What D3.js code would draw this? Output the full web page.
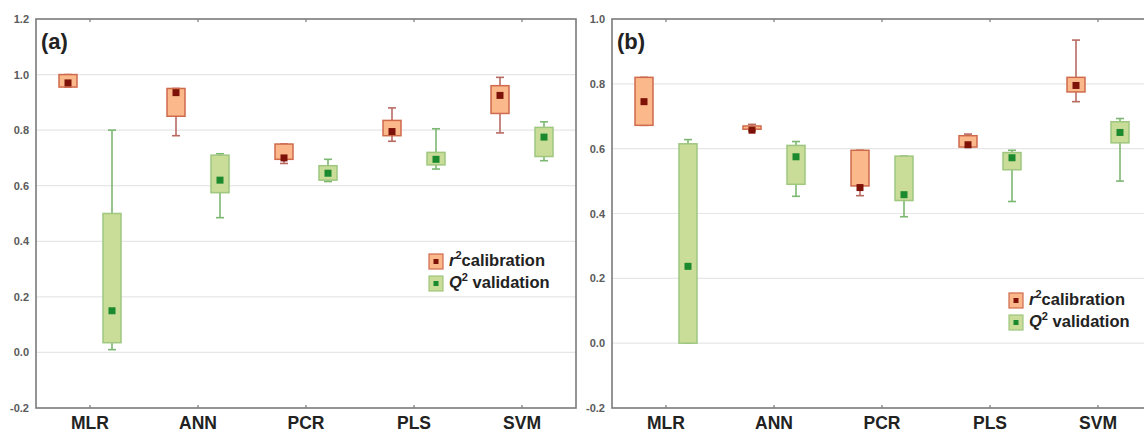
<!DOCTYPE html>
<html>
<head>
<meta charset="utf-8">
<script src="https://cdn.jsdelivr.net/npm/d3@7"></script>
<style>
  html, body { margin: 0; padding: 0; background: #fff; }
  svg { display: block; font-family: "Liberation Sans", Arial, sans-serif; }
</style>
</head>
<body>
<svg id="chart" width="1144" height="434"></svg>
<script>
// Model categories
const models = ["MLR", "ANN", "PCR", "PLS", "SVM"];

// Each entry: [min, q1, marker, q3, max]
// Panel (a)
const r2CalibrationA = [
  [0.955, 0.955, 0.970, 1.000, 1.000],
  [0.780, 0.850, 0.935, 0.950, 0.950],
  [0.680, 0.695, 0.700, 0.750, 0.750],
  [0.760, 0.780, 0.795, 0.835, 0.880],
  [0.790, 0.860, 0.925, 0.960, 0.990]
];
const q2ValidationA = [
  [0.010, 0.035, 0.150, 0.500, 0.800],
  [0.485, 0.575, 0.620, 0.710, 0.715],
  [0.615, 0.620, 0.645, 0.672, 0.695],
  [0.660, 0.675, 0.695, 0.720, 0.805],
  [0.690, 0.705, 0.775, 0.810, 0.830]
];
// Panel (b)
const r2CalibrationB = [
  [0.672, 0.672, 0.745, 0.820, 0.820],
  [0.655, 0.660, 0.657, 0.670, 0.675],
  [0.455, 0.485, 0.480, 0.595, 0.595],
  [0.605, 0.605, 0.612, 0.640, 0.645],
  [0.745, 0.775, 0.795, 0.820, 0.935]
];
const q2ValidationB = [
  [0.000, 0.000, 0.237, 0.615, 0.628],
  [0.453, 0.490, 0.575, 0.610, 0.622],
  [0.390, 0.440, 0.458, 0.577, 0.577],
  [0.437, 0.535, 0.572, 0.588, 0.595],
  [0.500, 0.618, 0.650, 0.683, 0.693]
];

// Axis tick labels
const ticksA = [-0.2, 0.0, 0.2, 0.4, 0.6, 0.8, 1.0, 1.2];
const ticksB = [-0.2, 0.0, 0.2, 0.4, 0.6, 0.8, 1.0];

const styles = {
  r2: { fill: "#fbb98b", stroke: "#cf6a4c", whisker: "#b86a62", marker: "#7e1208" },
  q2: { fill: "#c9dc98", stroke: "#9fc77f", whisker: "#7cb872", marker: "#1b8a2f" }
};

const svg = d3.select("#chart");
const fmt = d => d3.format(".1f")(d).replace("\u2212", "-");

function drawPanel(opt) {
  const x = d3.scaleBand().domain(models).range([opt.left, opt.right]);
  const y = d3.scaleLinear().domain(opt.domain).range([408, 19]);
  const g = svg.append("g");

  // grid lines
  g.selectAll("line.grid").data(opt.ticks.slice(1, -1)).join("line")
    .attr("x1", opt.left).attr("x2", opt.right)
    .attr("y1", d => y(d)).attr("y2", d => y(d))
    .attr("stroke", "#e6e6e6").attr("stroke-width", 1.2);

  // y axis labels
  const yAxis = d3.axisLeft(y).tickValues(opt.ticks).tickFormat(fmt).tickSize(0).tickPadding(7);
  const ya = g.append("g").attr("transform", `translate(${opt.left},0)`).call(yAxis);
  ya.select(".domain").remove();
  ya.selectAll("text").attr("font-size", 11).attr("font-weight", "bold").attr("fill", "#5a5a5a")
    .attr("font-family", "'Liberation Sans', Arial, sans-serif");

  // x axis labels
  const xAxis = d3.axisBottom(x).tickSize(0).tickPadding(9);
  const xa = g.append("g").attr("transform", "translate(0,408)").call(xAxis);
  xa.select(".domain").remove();
  xa.selectAll("text").attr("font-size", 17.5).attr("font-weight", "bold").attr("fill", "#222")
    .attr("font-family", "'Liberation Sans', Arial, sans-serif");

  // frame
  g.append("rect").attr("x", opt.left).attr("y", 19)
    .attr("width", opt.right - opt.left).attr("height", 389)
    .attr("fill", "none").attr("stroke", "#7a7a7a").attr("stroke-width", 1.6);

  // small category ticks on top and bottom edges
  models.forEach(m => {
    const cx = x(m) + x.bandwidth() / 2;
    [19, 408].forEach(yy => {
      g.append("line").attr("x1", cx).attr("x2", cx)
        .attr("y1", yy === 19 ? 19 : 405).attr("y2", yy === 19 ? 22 : 408)
        .attr("stroke", "#7a7a7a").attr("stroke-width", 1.2);
    });
  });

  // boxes
  const bw = 18, off = 22, cap = 8;
  [[opt.r2, styles.r2, -off], [opt.q2, styles.q2, off]].forEach(([data, st, dx]) => {
    data.forEach((v, i) => {
      const cx = x(models[i]) + x.bandwidth() / 2 + dx;
      const [mn, q1, med, q3, mx] = v;
      const bg = g.append("g");
      // whiskers
      bg.append("line").attr("x1", cx).attr("x2", cx).attr("y1", y(mx)).attr("y2", y(q3))
        .attr("stroke", st.whisker).attr("stroke-width", 1.6);
      bg.append("line").attr("x1", cx).attr("x2", cx).attr("y1", y(q1)).attr("y2", y(mn))
        .attr("stroke", st.whisker).attr("stroke-width", 1.6);
      [mn, mx].forEach(w => {
        bg.append("line").attr("x1", cx - cap / 2).attr("x2", cx + cap / 2)
          .attr("y1", y(w)).attr("y2", y(w))
          .attr("stroke", st.whisker).attr("stroke-width", 1.6);
      });
      // box
      bg.append("rect").attr("x", cx - bw / 2).attr("y", y(q3))
        .attr("width", bw).attr("height", Math.max(1, y(q1) - y(q3)))
        .attr("fill", st.fill).attr("stroke", st.stroke).attr("stroke-width", 1.5);
      // marker
      bg.append("rect").attr("x", cx - 3.5).attr("y", y(med) - 3.5)
        .attr("width", 7).attr("height", 7).attr("fill", st.marker);
    });
  });

  // panel label
  g.append("text").attr("x", opt.left + 5).attr("y", 49)
    .attr("font-size", 22).attr("font-weight", "bold").attr("fill", "#222")
    .text(opt.label);

  // legend
  const lg = g.append("g").attr("transform", `translate(${opt.legendX},${opt.legendY})`);
  const items = [
    { sym: "r", rest: "calibration", st: styles.r2 },
    { sym: "Q", rest: " validation", st: styles.q2 }
  ];
  items.forEach((it, k) => {
    const yy = k * 22;
    lg.append("rect").attr("x", 0).attr("y", yy - 12).attr("width", 14).attr("height", 15)
      .attr("fill", it.st.fill).attr("stroke", it.st.stroke).attr("stroke-width", 1.2);
    lg.append("rect").attr("x", 4.5).attr("y", yy - 7).attr("width", 5).attr("height", 5)
      .attr("fill", it.st.marker);
    const t = lg.append("text").attr("x", 20).attr("y", yy)
      .attr("font-size", 16.5).attr("font-weight", "bold").attr("fill", "#222");
    t.append("tspan").attr("font-style", "italic").text(it.sym);
    t.append("tspan").attr("font-size", 11).attr("dy", -7).text("2");
    t.append("tspan").attr("dy", 7).text(it.rest);
  });
}

drawPanel({
  left: 36, right: 576, domain: [-0.2, 1.2], ticks: ticksA,
  r2: r2CalibrationA, q2: q2ValidationA, label: "(a)",
  legendX: 429, legendY: 266
});
drawPanel({
  left: 612, right: 1152, domain: [-0.2, 1.0], ticks: ticksB,
  r2: r2CalibrationB, q2: q2ValidationB, label: "(b)",
  legendX: 1009, legendY: 305
});
</script>
</body>
</html>
